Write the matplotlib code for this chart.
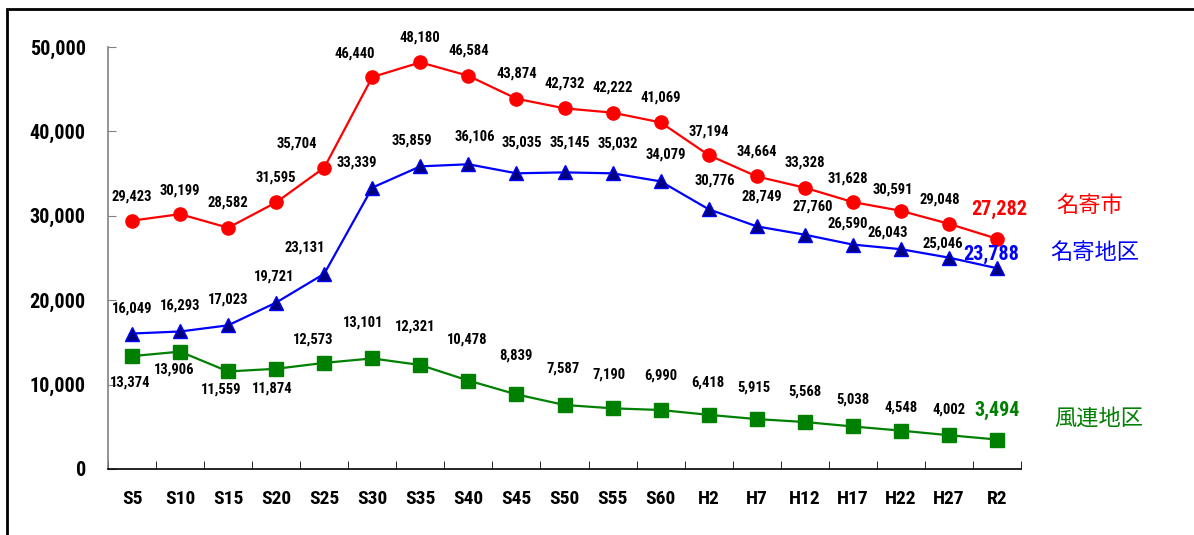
import matplotlib
matplotlib.use("Agg")
from matplotlib import pyplot as plt
from matplotlib.patches import Rectangle
import numpy as np

# census years
years = ['S5', 'S10', 'S15', 'S20', 'S25', 'S30', 'S35', 'S40', 'S45', 'S50',
         'S55', 'S60', 'H2', 'H7', 'H12', 'H17', 'H22', 'H27', 'R2']

nayoro_city = [29423, 30199, 28582, 31595, 35704, 46440, 48180, 46584, 43874, 42732,
               42222, 41069, 37194, 34664, 33328, 31628, 30591, 29048, 27282]
nayoro_area = [16049, 16293, 17023, 19721, 23131, 33339, 35859, 36106, 35035, 35145,
               35032, 34079, 30776, 28749, 27760, 26590, 26043, 25046, 23788]
furen_area = [13374, 13906, 11559, 11874, 12573, 13101, 12321, 10478, 8839, 7587,
              7190, 6990, 6418, 5915, 5568, 5038, 4548, 4002, 3494]

# label offsets in pixels (dx, dy)
red_off = [(0, 24), (0, 24), (0, 25), (0, 25), (-27, 24), (-18, 24), (0, 25), (0, 25),
           (0, 25), (0, 25), (0, 25), (0, 25), (0, 24), (0, 25), (0, 25), (-5, 24),
           (-8, 21), (-9, 24), (2, 29)]
blue_off = [(0, 25), (0, 26), (0, 26), (-2, 26), (-19, 26), (-15, 25), (-8, 26), (6, 28),
            (5, 31), (5, 30), (5, 30), (5, 27), (6, 29), (5, 30), (8, 28), (-5, 21),
            (-13, 17), (-6, 14), (-6, 14)]
green_off = [(-2, -26), (-6, -18), (-7, -18), (-4, -20), (-11, 23), (-9, 36), (-5, 38),
             (-1, 41), (-1, 39), (-1, 36), (-3, 34), (0, 34), (-1, 32), (-3, 32),
             (0, 30), (0, 27), (0, 23), (0, 26), (0, 29)]

narrow = ['Roboto Condensed', 'Liberation Sans', 'DejaVu Sans']
cjk = ['Noto Sans CJK JP', 'DejaVu Sans']
plt.rcParams['font.family'] = narrow

fig = plt.figure(figsize=(11.94, 5.35), dpi=100)
# outer frame
fig.patches.append(Rectangle((7 / 1194, -0.1), 1.2, 1 - 9 / 535 + 0.1, transform=fig.transFigure,
                             fill=False, edgecolor='black', linewidth=2))
ax = fig.add_axes([108 / 1194, 1 - 469 / 535, (1021 - 108) / 1194, (469 - 47) / 535])

x = np.arange(len(years))

ax.plot(x, nayoro_city, color='#ff0000', lw=1.6, marker='o', ms=9.5, mfc='#ff0000',
        mec='#ff0000', zorder=3)
ax.plot(x, nayoro_area, color='#0000ff', lw=1.6, marker='^', ms=10, mfc='#000080',
        mec='#0000ff', zorder=3)
ax.plot(x, furen_area, color='#008000', lw=1.6, marker='s', ms=9.5, mfc='#008000',
        mec='#008000', zorder=3)

def put_labels(vals, offs, color_last):
    n = len(vals)
    for i, (v, (dx, dy)) in enumerate(zip(vals, offs)):
        last = i == n - 1
        ax.annotate(f'{v:,}', (x[i], v), xytext=(dx, dy), textcoords='offset pixels',
                    ha='center', va='center', fontweight='bold',
                    fontsize=14.5 if last else 10.5,
                    color=color_last if last else 'black', zorder=4)

put_labels(nayoro_city, red_off, '#ff0000')
put_labels(nayoro_area, blue_off, '#0000ff')
put_labels(furen_area, green_off, '#008000')

# series names
ax.annotate('名寄市', (x[-1], nayoro_city[-1]), xytext=(93, 33), textcoords='offset pixels',
            ha='center', va='center', fontsize=16, color='#ff0000', family=cjk)
ax.annotate('名寄地区', (x[-1], nayoro_area[-1]), xytext=(98, 16), textcoords='offset pixels',
            ha='center', va='center', fontsize=16, color='#0000ff', family=cjk)
ax.annotate('風連地区', (x[-1], furen_area[-1]), xytext=(102, 21), textcoords='offset pixels',
            ha='center', va='center', fontsize=16, color='#008000', family=cjk)

ax.set_xlim(-0.5, len(years) - 0.5)
ax.set_ylim(0, 50000)
ax.set_yticks(range(0, 50001, 10000))
ax.set_yticklabels([f'{v:,}' for v in range(0, 50001, 10000)], fontweight='bold', fontsize=14.5)
ax.tick_params(axis='y', direction='in', length=6, color='#808080', pad=16)
ax.set_xticks(x)
ax.set_xticklabels(years, fontweight='bold', fontsize=14)
ax.set_xticks(np.arange(-0.5, len(years), 1), minor=True)
ax.tick_params(axis='x', which='major', length=0, pad=15)
ax.tick_params(axis='x', which='minor', direction='in', length=6, color='black')

for s in ['top', 'right']:
    ax.spines[s].set_visible(False)
ax.spines['left'].set_color('#808080')
ax.spines['left'].set_linewidth(1.2)
ax.spines['bottom'].set_linewidth(1.2)

fig.savefig('out.png', dpi=100)
